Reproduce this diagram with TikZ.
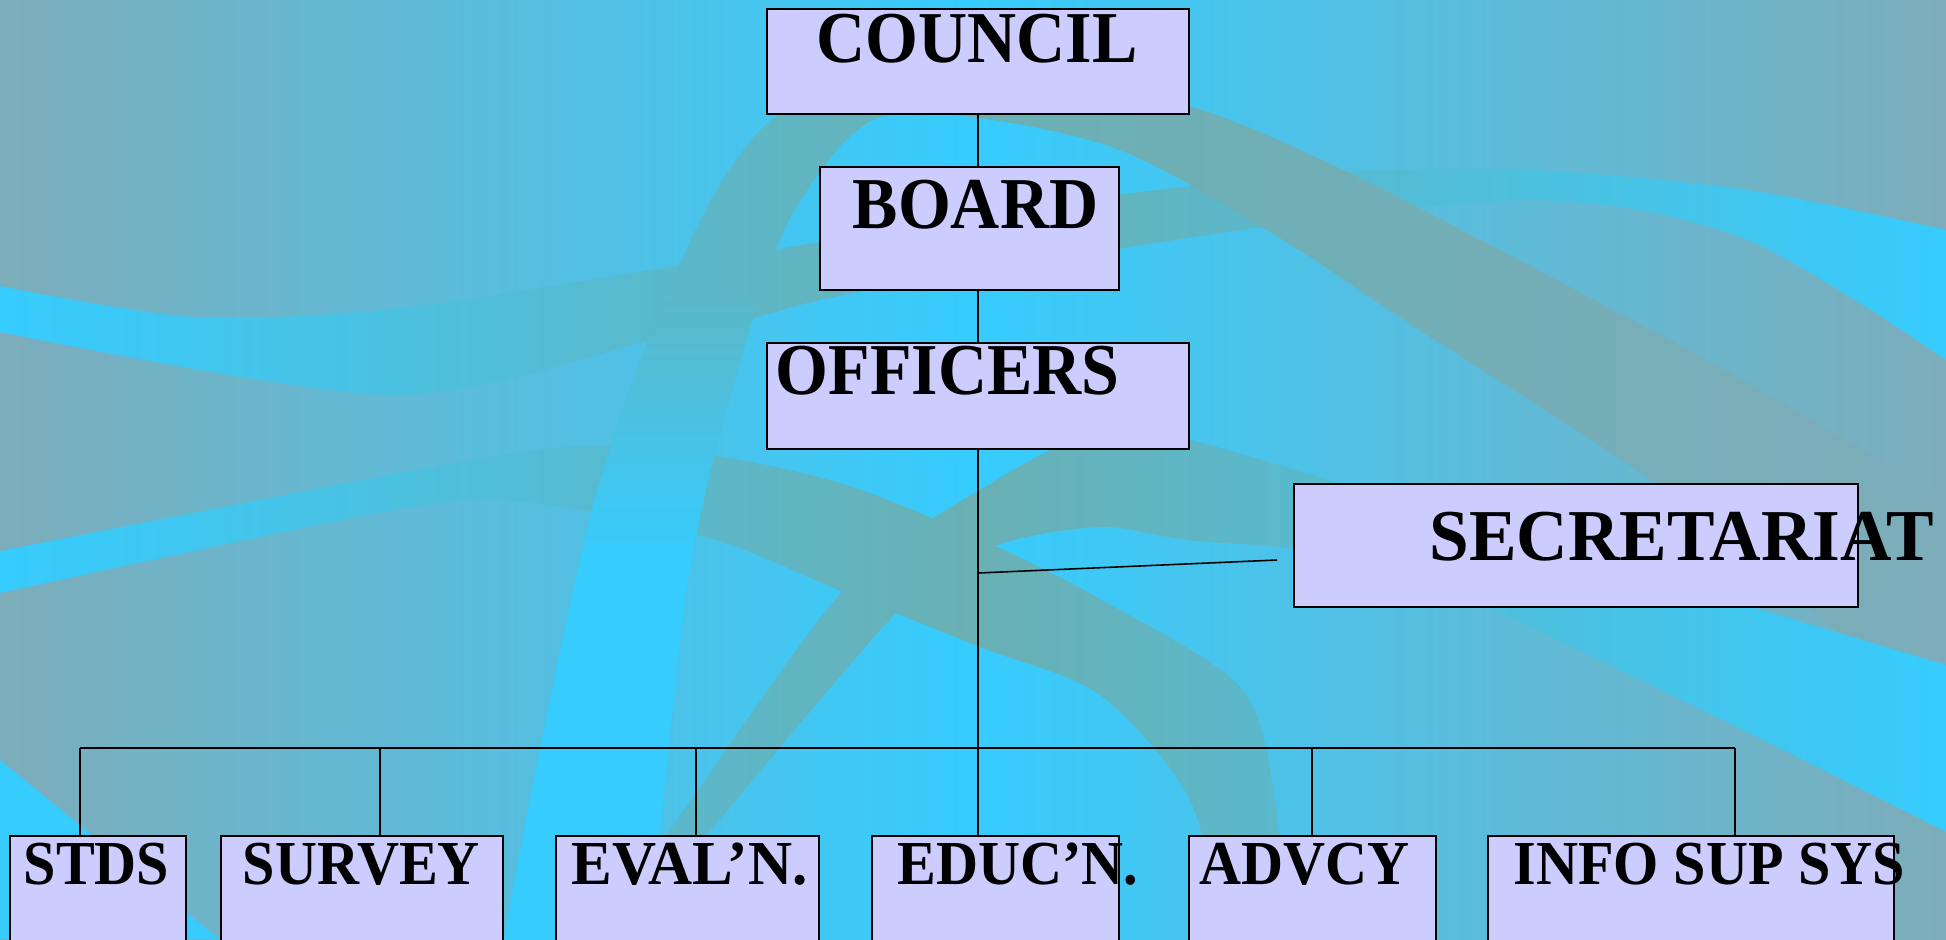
\documentclass[tikz,border=0pt]{standalone}
\usepackage{fontspec}
\newfontfamily\orgfont[FakeStretch=0.93]{Liberation Serif}
\newfontfamily\orgwidefont[FakeStretch=0.975]{Liberation Serif}
\usetikzlibrary{calc}

\definecolor{bgcyan}{HTML}{36CCFE}
\definecolor{bggrey}{HTML}{7DADBA}
\definecolor{ribbon}{HTML}{6AB0B4}
\definecolor{boxfill}{HTML}{CCCCFF}

% one swept band of the backdrop: shading, upper edge, lower edge (reversed), extra
\newcommand{\ribbonband}[4]{%
  \begin{scope}
    \clip plot[smooth] coordinates {#2} -- plot[smooth] coordinates {#3} -- cycle;
    \shade[#1] (0,0) rectangle (1946,939);
    #4
  \end{scope}}

\begin{document}
\begin{tikzpicture}[x=0.1mm, y=-0.1mm,
    orgbox/.style={draw=black, line width=0.6pt, fill=boxfill, inner sep=0pt},
    orgtag/.style={anchor=base west, inner sep=0pt,
      font=\orgfont\bfseries\fontsize{20.8pt}{24pt}\selectfont},
    widetag/.style={orgtag, font=\orgwidefont\bfseries\fontsize{20.8pt}{24pt}\selectfont},
    subtag/.style={orgtag, font=\orgfont\bfseries\fontsize{17.8pt}{21pt}\selectfont},
    widesubtag/.style={orgtag, font=\orgwidefont\bfseries\fontsize{17.8pt}{21pt}\selectfont},
    link/.style={line width=0.45pt},
    sheen/.style={left color=bgcyan, right color=bgcyan, middle color=ribbon},
    dimsheen/.style={left color=bgcyan, right color=bggrey, middle color=ribbon}]

    \useasboundingbox (0,0) rectangle (1946,939);
    \clip (0,0) rectangle (1946,939);

    % backdrop
    \shade[left color=bggrey, right color=bggrey, middle color=bgcyan] (0,0) rectangle (1946,939);
    \ribbonband{sheen}
      {(0,286) (194,317) (400,308) (677,266) (820,242) (1100,197) (1348,172) (1532,170) (1748,190) (1946,230)}
      {(1946,360) (1855,300) (1748,240) (1640,210) (1532,200) (1424,207) (1262,227) (1122,248) (960,272) (820,300) (753,318) (648,341) (390,395) (0,332)}
      {}
    \ribbonband{sheen}
      {(0,551) (400,473) (579,446) (712,455) (846,485) (980,539) (1100,599) (1240,687) (1275,800) (1285,945)}
      {(1225,945) (1190,800) (1100,695) (980,647) (846,593) (712,539) (534,503) (400,509) (0,593)}
      {}
    \ribbonband{dimsheen}
      {(503,945) (534,778) (592,509) (650,335) (712,198) (775,117) (880,75) (1000,70) (1192,107) (1343,170) (1532,267) (1748,383) (1946,500)}
      {(1946,720) (1800,600) (1656,483) (1424,333) (1262,227) (1100,143) (891,114) (802,198) (753,317) (690,569) (650,945)}
      {\shade[top color=ribbon!72!bgcyan, bottom color=bgcyan] (0,300) rectangle (900,560);
       \fill[bgcyan] (0,559) rectangle (900,945);}
    \ribbonband{sheen}
      {(560,945) (663,838) (846,587) (998,479) (1100,431) (1180,437) (1424,509) (1946,665)}
      {(1946,832) (1424,580) (1180,539) (1100,527) (998,545) (909,599) (704,838) (615,945)}
      {}
    \fill[bgcyan] (0,760) -- (219,939) -- (0,939) -- cycle;

    % boxes
    \node[orgbox, minimum width=42.2mm, minimum height=10.5mm] (council) at (978,61.5) {};
    \node[orgbox, minimum width=29.9mm, minimum height=12.3mm] (board) at (969.5,228.5) {};
    \node[orgbox, minimum width=42.2mm, minimum height=10.6mm] (officers) at (978,396) {};
    \node[orgbox, minimum width=56.4mm, minimum height=12.3mm] (secretariat) at (1576,545.5) {};
    \node[orgbox, minimum width=17.6mm, minimum height=16.4mm] (stds) at (98,918) {};
    \node[orgbox, minimum width=28.2mm, minimum height=16.4mm] (survey) at (362,918) {};
    \node[orgbox, minimum width=26.3mm, minimum height=16.4mm] (evaln) at (687.5,918) {};
    \node[orgbox, minimum width=24.7mm, minimum height=16.4mm] (educn) at (995.5,918) {};
    \node[orgbox, minimum width=24.7mm, minimum height=16.4mm] (advcy) at (1312.5,918) {};
    \node[orgbox, minimum width=40.6mm, minimum height=16.4mm] (info) at (1691,918) {};

    % connectors
    \coordinate (tap stds) at (80,748);
    \coordinate (tap survey) at (380,748);
    \coordinate (tap evaln) at (696,748);
    \coordinate (tap advcy) at (1312,748);
    \coordinate (tap info) at (1735,748);
    \coordinate (sec tap) at (978,573);
    \coordinate (sec end) at (1277,560);

    \draw[link] (council.south) -- (council.south |- board.north);
    \draw[link] (board.south -| council.south) -- (officers.north);
    \draw[link] (officers.south) -- (officers.south |- educn.north);
    \draw[link] (sec tap) -- (sec end);
    \draw[link] (tap stds) -- (tap info);
    \foreach \n in {stds,survey,evaln,advcy,info}
        \draw[link] (tap \n) -- (tap \n |- \n.north);

    % labels
    \node[orgtag] (council-t) at (816,62) {COUNCIL};
    \node[orgtag] (board-t) at (852,228) {BOARD};
    \node[orgtag] (officers-t) at (775,394) {OFFICERS};
    \node[widetag] (secretariat-t) at (1429,560) {SECRETARIAT};
    \node[subtag] (stds-t) at (23,884) {STDS};
    \node[subtag] (survey-t) at (242,884) {SURVEY};
    \node[widesubtag] (evaln-t) at (571,884) {EVAL’N.};
    \node[subtag] (educn-t) at (897,884) {EDUC’N.};
    \node[subtag] (advcy-t) at (1199,884) {ADVCY};
    \node[subtag] (info-t) at (1513,884) {INFO SUP SYS};
\end{tikzpicture}
\end{document}
